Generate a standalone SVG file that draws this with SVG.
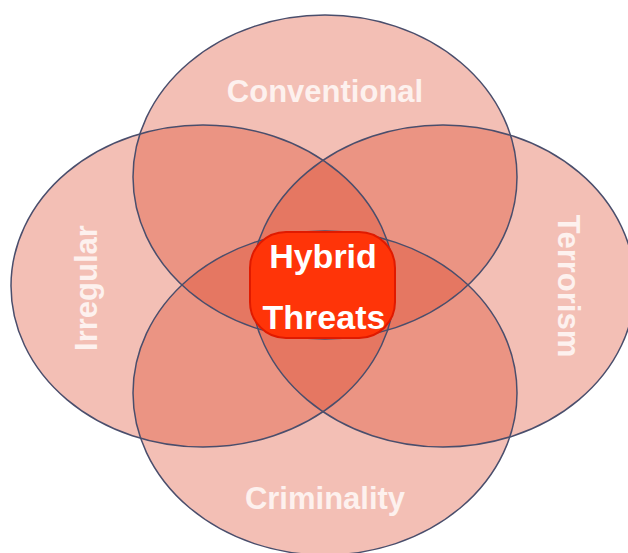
<svg xmlns="http://www.w3.org/2000/svg" xmlns:xlink="http://www.w3.org/1999/xlink" width="628" height="553" viewBox="0 0 628 553">
  <style>
    .set { fill: #DB3C1E; fill-opacity: 0.33; stroke: none; }
    .outline { fill: none; stroke: #4a4e6c; stroke-width: 1.5; }
    .label { font-family: "Liberation Sans", Arial, sans-serif; font-weight: bold; font-size: 31px; fill: #fdf1ee; text-anchor: middle; }
    .core { font-family: "Liberation Sans", Arial, sans-serif; font-weight: bold; font-size: 34px; fill: #ffffff; text-anchor: middle; }
  </style>
  <defs>
    <ellipse id="e-top" cx="325" cy="177" rx="192" ry="162"/>
    <ellipse id="e-left" cx="203" cy="286" rx="192" ry="161"/>
    <ellipse id="e-right" cx="443" cy="286" rx="192" ry="161"/>
    <ellipse id="e-bottom" cx="325" cy="393" rx="192" ry="162"/>
  </defs>
  <rect width="628" height="553" fill="#ffffff"/>
  <g id="conventional">
    <use xlink:href="#e-top" class="set"/>
  </g>
  <g id="irregular">
    <use xlink:href="#e-left" class="set"/>
  </g>
  <g id="terrorism">
    <use xlink:href="#e-right" class="set"/>
  </g>
  <g id="criminality">
    <use xlink:href="#e-bottom" class="set"/>
  </g>
  <g id="outlines">
    <use xlink:href="#e-top" class="outline"/>
    <use xlink:href="#e-left" class="outline"/>
    <use xlink:href="#e-right" class="outline"/>
    <use xlink:href="#e-bottom" class="outline"/>
  </g>
  <g id="labels">
    <text class="label" x="325" y="102">Conventional</text>
    <text class="label" x="325" y="509">Criminality</text>
    <text class="label" transform="translate(97,288) rotate(-90)" x="0" y="0">Irregular</text>
    <text class="label" transform="translate(558,286) rotate(90)" x="0" y="0">Terrorism</text>
  </g>
  <g id="hybrid-threats">
    <rect x="250" y="232" width="145" height="106" rx="36" ry="36" fill="#ff3408" stroke="#e01a00" stroke-width="2"/>
    <text class="core" x="323" y="268">Hybrid</text>
    <text class="core" x="324" y="329">Threats</text>
  </g>
</svg>
